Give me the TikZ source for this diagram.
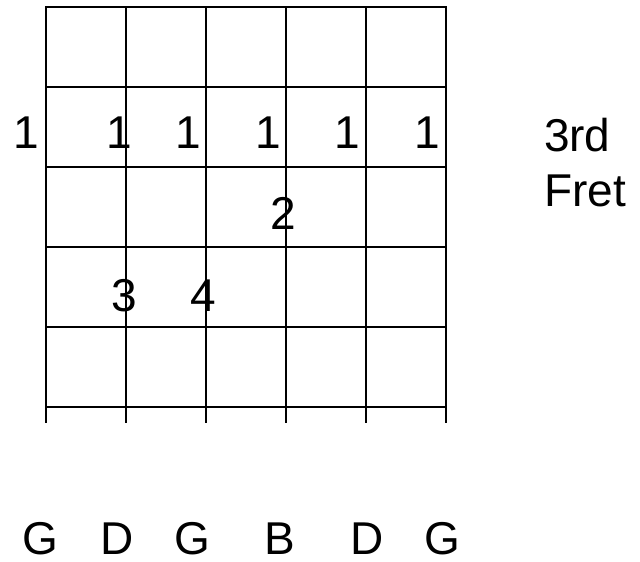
\documentclass[tikz,border=0pt]{standalone}
\usepackage{fontspec}
\setmainfont{Liberation Sans}
\usetikzlibrary{positioning}

\begin{document}
\begin{tikzpicture}[x=1pt, y=-1pt, line width=2.2pt,
    every node/.style={font=\fontsize{46}{55}\selectfont, inner sep=0pt}]
  \useasboundingbox (0,0) rectangle (640,562);
  % Strings
  \foreach \x in {0,...,5} {
    \draw (46+80*\x,7) -- (46+80*\x,423);
  }
  % Frets
  \foreach \y in {0,...,5} {
    \draw[line cap=rect] (46,7+80*\y) -- (446,7+80*\y);
  }
  % Barre on the 3rd fret
  \foreach \x [count=\i] in {26,119,188,268,347,427} {
    \node (barre\i) at (\x,133) {1};
  }
  % Other fingers
  \node (fingtwo) at (283,213) {2};
  \node (fingthree) at (124,296) {3};
  \node (fingfour) at (203,296) {4};
  % Fret label
  \node[anchor=west] (third) at (543,135) {3rd};
  \node[below=21pt of third.south west, anchor=north west] (fret) {Fret};
  % Tuning
  \foreach \x/\s [count=\i] in {40/G,117/D,192/G,280/B,367/D,442/G} {
    \node (string\i) at (\x,539) {\s};
  }
\end{tikzpicture}
\end{document}
